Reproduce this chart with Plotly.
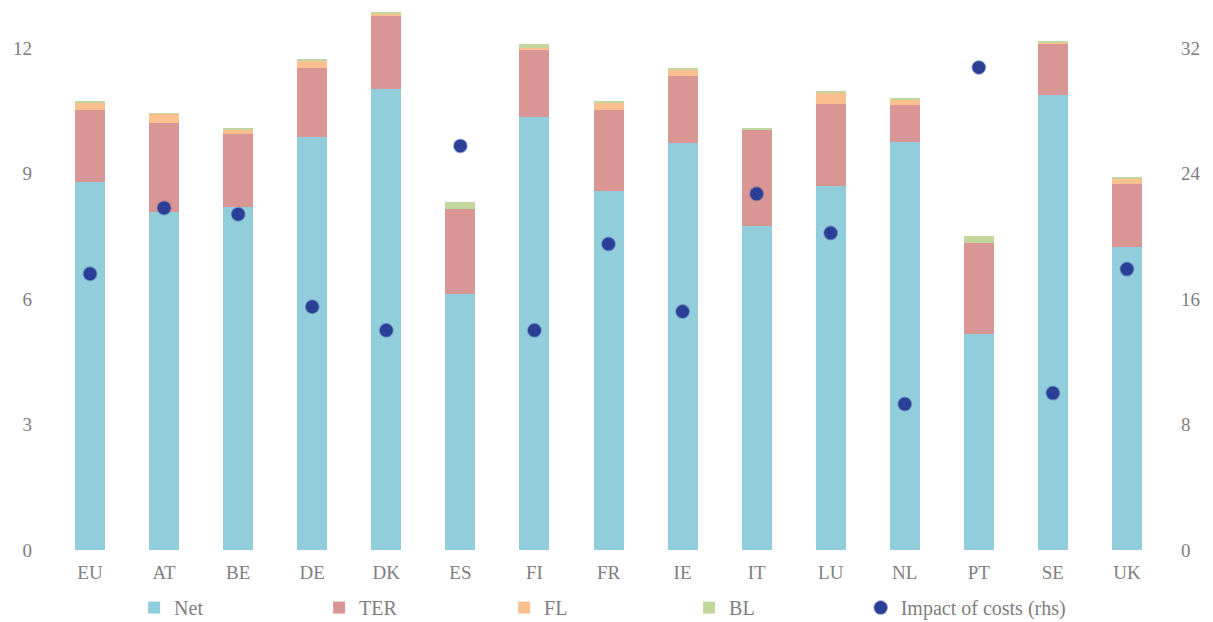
import plotly.graph_objects as go

countries = ["EU", "AT", "BE", "DE", "DK", "ES", "FI", "FR", "IE", "IT", "LU", "NL", "PT", "SE", "UK"]
net = [8.80, 8.08, 8.20, 9.86, 11.02, 6.12, 10.35, 8.58, 9.73, 7.75, 8.70, 9.75, 5.16, 10.88, 7.24]
ter = [1.72, 2.13, 1.74, 1.66, 1.76, 2.03, 1.60, 1.94, 1.60, 2.30, 1.96, 0.89, 2.18, 1.22, 1.51]
fl = [0.18, 0.21, 0.12, 0.17, 0.03, 0.01, 0.04, 0.17, 0.16, 0.01, 0.26, 0.13, 0.00, 0.02, 0.12]
bl = [0.02, 0.02, 0.01, 0.02, 0.05, 0.16, 0.11, 0.02, 0.03, 0.03, 0.05, 0.03, 0.17, 0.02, 0.02]
impact = [17.6, 21.8, 21.4, 15.5, 14.0, 25.75, 14.0, 19.5, 15.2, 22.7, 20.2, 9.3, 30.75, 10.0, 17.9]

left_ticks = [0, 3, 6, 9, 12]
right_ticks = [0, 8, 16, 24, 32]

FONT = "Liberation Serif"
GREY = "#808080"

fig = go.Figure()
for name, vals, col in [("Net", net, "#92CDDC"), ("TER", ter, "#D99694"),
                        ("FL", fl, "#FAC090"), ("BL", bl, "#C3D69B")]:
    fig.add_trace(go.Bar(x=countries, y=vals, name=name, legend="legend",
                         marker=dict(color=col, line=dict(width=0))))

fig.add_trace(go.Scatter(x=countries, y=impact, name="Impact of costs (rhs)", mode="markers",
                         yaxis="y2", legend="legend2",
                         marker=dict(color="#2B3F96", size=13,
                                     line=dict(color="rgba(43,63,150,0.35)", width=2))))

legend_common = dict(orientation="h", xanchor="left", y=-0.07, yanchor="top", itemwidth=30,
                     font=dict(size=20, color=GREY), traceorder="normal",
                     bgcolor="rgba(0,0,0,0)")

fig.update_layout(
    barmode="stack",
    bargap=0.595,
    width=1213, height=622,
    margin=dict(l=53, r=49, t=6, b=72, autoexpand=False),
    plot_bgcolor="white", paper_bgcolor="white",
    font=dict(family=FONT, size=19, color=GREY),
    xaxis=dict(range=[-0.5, 14.5], showgrid=False, showline=False, ticks="", automargin=False,
               ticklabelstandoff=9, tickfont=dict(size=19, color=GREY)),
    yaxis=dict(range=[0, 13], tickvals=left_ticks, showgrid=False, zeroline=False, automargin=False,
               showline=False, ticks="", ticklabelstandoff=20, tickfont=dict(size=19, color=GREY)),
    yaxis2=dict(range=[0, 13 * 32 / 12], tickvals=right_ticks, overlaying="y", side="right",
                showgrid=False, zeroline=False, showline=False, ticks="", ticklabelstandoff=16,
                automargin=False, tickfont=dict(size=19, color=GREY)),
    legend=dict(x=0.073, entrywidth=140, entrywidthmode="pixels", **legend_common),
    legend2=dict(x=0.727, **legend_common),
    showlegend=True,
)

fig.write_html("out.html", config={"displayModeBar": False},
               post_script="document.body.style.margin='0px';")
